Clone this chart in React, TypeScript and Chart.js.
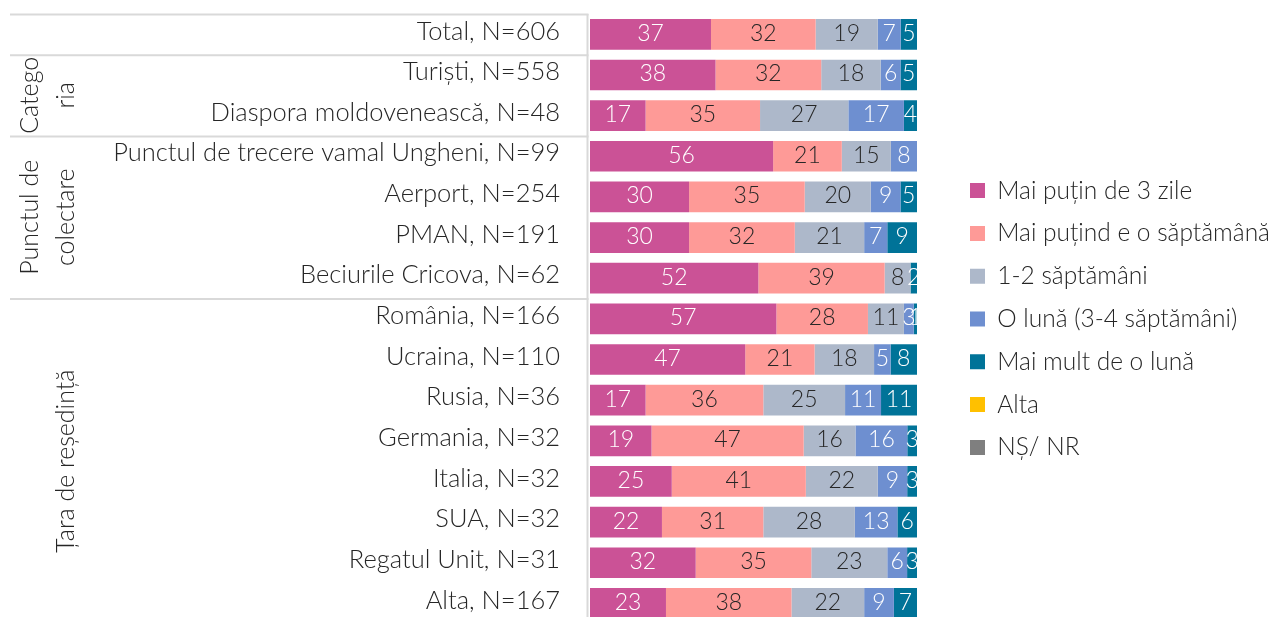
import React, { useEffect, useRef } from 'react';
import { Chart, registerables } from 'chart.js';

Chart.register(...registerables);

const categories = [
  'Total, N=606',
  'Turiști, N=558',
  'Diaspora moldovenească, N=48',
  'Punctul de trecere vamal Ungheni, N=99',
  'Aerport, N=254',
  'PMAN, N=191',
  'Beciurile Cricova, N=62',
  'România, N=166',
  'Ucraina, N=110',
  'Rusia, N=36',
  'Germania, N=32',
  'Italia, N=32',
  'SUA, N=32',
  'Regatul Unit, N=31',
  'Alta, N=167',
];

const seriesNames = [
  'Mai puțin de 3 zile',
  'Mai puțind e o săptămână',
  '1-2 săptămâni',
  'O lună (3-4 săptămâni)',
  'Mai mult de o lună',
  'Alta',
  'NȘ/ NR',
];

const lessThan3Days = [37, 38, 17, 56, 30, 30, 52, 57, 47, 17, 19, 25, 22, 32, 23];
const lessThanWeek = [32, 32, 35, 21, 35, 32, 39, 28, 21, 36, 47, 41, 31, 35, 38];
const oneTwoWeeks = [19, 18, 27, 15, 20, 21, 8, 11, 18, 25, 16, 22, 28, 23, 22];
const oneMonth = [7, 6, 17, 8, 9, 7, 0, 3, 5, 11, 16, 9, 13, 6, 9];
const moreThanMonth = [5, 5, 4, 0, 5, 9, 2, 1, 8, 11, 3, 3, 6, 3, 7];
const otherAnswer = [0, 0, 0, 0, 0, 0, 0, 0, 0, 0, 0, 0, 0, 0, 0];
const dontKnow = [0, 0, 0, 0, 0, 0, 0, 0, 0, 0, 0, 0, 0, 0, 0];

const groupLabels = [[], ['Catego', 'ria'], ['Punctul de', 'colectare'], ['Țara de reședință']];
const groupStarts = [0, 1, 3, 7];

const seriesValues = [lessThan3Days, lessThanWeek, oneTwoWeeks, oneMonth, moreThanMonth, otherAnswer, dontKnow];
const seriesColors = ['#CB5296', '#FE9A97', '#ADB8CA', '#6E8FD0', '#007398', '#FFC000', '#7F7F7F'];
const labelColors = ['#FFFFFF', '#262626', '#262626', '#FFFFFF', '#FFFFFF', '#262626', '#FFFFFF'];

const FONT = 'Lato, "Noto Sans", sans-serif';
const LEGEND_FONT_SIZE = 24.5;
const LEGEND_PADDING = 42.8 - LEGEND_FONT_SIZE;
const LEGEND_BOX_X = 970;

const rowTotals = categories.map((_, j) => seriesValues.reduce((s, arr) => s + arr[j], 0));

const groupPlugin = {
  id: 'groupPlugin',
  afterDraw(chart: any) {
    const { ctx, chartArea } = chart;
    const y = chart.scales.y;
    const band = y.getPixelForValue(1) - y.getPixelForValue(0);
    const lineRight = chartArea.left - 2.5;
    ctx.save();
    ctx.strokeStyle = '#D9D9D9';
    ctx.lineWidth = 2;
    ctx.beginPath();
    ctx.moveTo(lineRight, chartArea.top);
    ctx.lineTo(lineRight, chartArea.bottom);
    ctx.stroke();
    groupStarts.forEach((start, g) => {
      const top = y.getPixelForValue(start) - band / 2;
      ctx.beginPath();
      ctx.moveTo(10, top + 0.5);
      ctx.lineTo(lineRight + 1, top + 0.5);
      ctx.stroke();
      const end = g + 1 < groupStarts.length ? groupStarts[g + 1] : categories.length;
      const bottom = y.getPixelForValue(end - 1) + band / 2;
      const mid = (top + bottom) / 2;
      const lines = groupLabels[g];
      ctx.fillStyle = '#262626';
      ctx.font = `300 25px ${FONT}`;
      ctx.textAlign = 'center';
      ctx.textBaseline = 'middle';
      lines.forEach((line, k) => {
        const x = 66 - (lines.length - 1 - k) * 36;
        ctx.save();
        ctx.translate(x, mid);
        ctx.rotate(-Math.PI / 2);
        ctx.fillText(line, 0, 0);
        ctx.restore();
      });
    });
    ctx.restore();
  },
};

const valueLabelPlugin = {
  id: 'valueLabelPlugin',
  afterDatasetsDraw(chart: any) {
    const { ctx, chartArea } = chart;
    ctx.save();
    ctx.beginPath();
    ctx.rect(chartArea.left, chartArea.top, chartArea.right - chartArea.left, chartArea.bottom - chartArea.top);
    ctx.clip();
    ctx.font = `300 23px ${FONT}`;
    ctx.textAlign = 'center';
    ctx.textBaseline = 'middle';
    seriesValues.forEach((values, i) => {
      const meta = chart.getDatasetMeta(i);
      meta.data.forEach((bar: any, j: number) => {
        const v = values[j];
        if (!v) return;
        ctx.fillStyle = labelColors[i];
        ctx.fillText(String(v), (bar.x + bar.base) / 2, bar.y - 1);
      });
    });
    ctx.restore();
  },
};

const legendShiftPlugin = {
  id: 'legendShiftPlugin',
  afterLayout(chart: any) {
    const lg = chart.legend;
    if (!lg) return;
    lg.left = LEGEND_BOX_X - LEGEND_PADDING;
    lg.right = chart.width;
    lg.width = lg.right - lg.left;
  },
};

export default function App() {
  const canvasRef = useRef<HTMLCanvasElement | null>(null);

  useEffect(() => {
    if (!canvasRef.current) return;
    const chart = new Chart(canvasRef.current, {
      type: 'bar',
      data: {
        labels: categories,
        datasets: seriesValues.map((values, i) => ({
          label: seriesNames[i],
          data: values.map((v, j) => (v / rowTotals[j]) * 100),
          backgroundColor: seriesColors[i],
          borderWidth: 0,
          categoryPercentage: 1,
          barPercentage: 0.755,
        })),
      },
      options: {
        indexAxis: 'y',
        animation: false,
        responsive: true,
        maintainAspectRatio: false,
        layout: { padding: { top: 14, bottom: 1, left: 0, right: 62 } },
        scales: {
          x: { stacked: true, min: 0, max: 100, display: false },
          y: {
            stacked: true,
            grid: {
              display: true,
              drawOnChartArea: false,
              drawTicks: true,
              tickLength: 30,
              color: 'rgba(0,0,0,0)',
            },
            border: { display: false },
            ticks: {
              autoSkip: false,
              padding: 0,
              labelOffset: -3,
              color: '#262626',
              font: { family: FONT, size: 25.5, weight: '300', lineHeight: 0.1 },
            },
            afterFit: (s: any) => {
              s.width = 590;
            },
          },
        },
        plugins: {
          tooltip: { enabled: false },
          legend: {
            position: 'right',
            align: 'center',
            maxWidth: 300,
            labels: {
              boxWidth: 15,
              boxHeight: 15,
              padding: LEGEND_PADDING,
              color: '#262626',
              font: { family: FONT, size: LEGEND_FONT_SIZE, weight: '300' },
            },
          },
        },
      } as any,
      plugins: [groupPlugin, valueLabelPlugin, legendShiftPlugin],
    });
    return () => chart.destroy();
  }, []);

  return (
    <div style={{ position: 'fixed', left: 0, top: 0, width: 1279, height: 625, background: '#FFFFFF' }}>
      <canvas ref={canvasRef} />
    </div>
  );
}
